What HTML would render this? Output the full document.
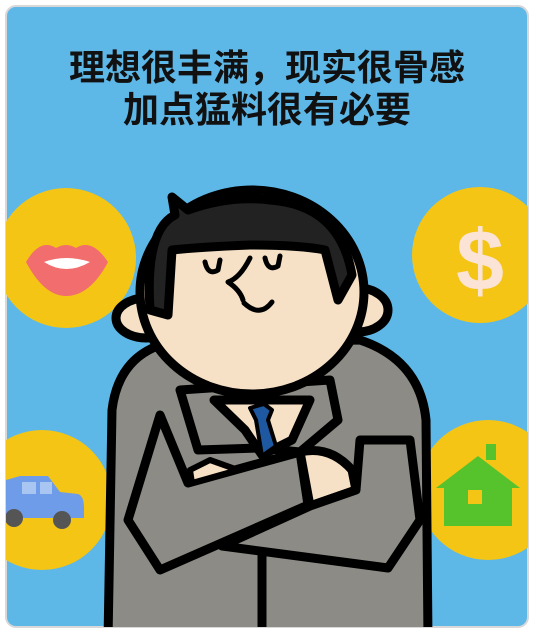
<!DOCTYPE html>
<html><head><meta charset="utf-8"><style>
html,body{margin:0;padding:0;background:#fff;width:534px;height:633px;overflow:hidden}
svg{display:block}
</style></head><body>
<svg width="534" height="633" viewBox="0 0 534 633">
<defs><clipPath id="card"><rect x="6" y="6" width="522" height="621" rx="10"/></clipPath></defs>
<rect x="6" y="6" width="522" height="621" rx="10" fill="#5db8e8" stroke="#d8d8d8" stroke-width="2"/>
<g clip-path="url(#card)">
  <g>
    <circle cx="66" cy="258" r="70" fill="#f4c515"/>
    <path d="M26 262 Q40 238 56 248 Q66 242 76 248 Q92 238 108 262 Q90 296 66 296 Q44 296 26 262Z" fill="#f26d6d"/>
    <path d="M44 262 Q66 254 90 262 Q66 276 44 262Z" fill="#fff"/>
  </g>
  <g>
    <circle cx="480" cy="255" r="68" fill="#f4c515"/>
    <text x="480" y="290" font-family="Liberation Sans, sans-serif" font-size="86" font-weight="bold" fill="#fbe3d6" text-anchor="middle">$</text>
  </g>
  <g>
    <circle cx="42" cy="500" r="70" fill="#f4c515"/>
    <path d="M6 480 L20 476 L48 476 L60 492 L78 494 Q84 496 84 508 L84 518 L6 518Z" fill="#6e9ce8"/>
    <rect x="22" y="482" width="14" height="12" fill="#a9c6f2"/>
    <rect x="40" y="482" width="12" height="12" fill="#a9c6f2"/>
    <circle cx="14" cy="518" r="9" fill="#555"/>
    <circle cx="62" cy="520" r="9" fill="#555"/>
  </g>
  <g>
    <circle cx="488" cy="490" r="70" fill="#f4c515"/>
    <path d="M436 488 L478 456 L520 488 L512 488 L512 526 L444 526 L444 488Z" fill="#56c22c"/>
    <rect x="486" y="444" width="10" height="16" fill="#56c22c"/>
    <rect x="468" y="490" width="14" height="14" fill="#f4c515"/>
  </g>
  <g stroke="#000" stroke-width="9" stroke-linejoin="round" stroke-linecap="round">
    <path d="M108 640 L112 410 Q118 360 160 345 L360 340 Q420 360 426 420 L428 640Z" fill="#8c8b86"/>
    <path d="M180 390 L198 450 L260 448 L300 452 L338 420 L330 380Z" fill="#8c8b86"/>
    <path d="M214 400 L245 430 L262 455 L292 440 L310 400Z" fill="#f6e0c6"/>
    <path d="M250 408 L264 404 L272 410 L268 420 L276 446 L262 456 L256 420Z" fill="#1e58a0" stroke-width="4"/>
    <path d="M160 415 L188 483 L300 452 L308 505 L160 570 L128 520Z" fill="#8c8b86"/>
    <path d="M190 470 L210 460 L238 470 L192 483Z" fill="#f6e0c6" stroke-width="6"/>
    <path d="M300 452 Q330 445 352 470 L356 490 L310 506Z" fill="#f6e0c6"/>
    <path d="M222 546 L310 506 L356 490 L360 440 L410 440 L420 520 L388 568Z" fill="#8c8b86"/>
    <line x1="262" y1="555" x2="262" y2="640"/>
    <ellipse cx="146" cy="318" rx="30" ry="20" fill="#f6e0c6"/>
    <ellipse cx="358" cy="310" rx="30" ry="22" fill="#f6e0c6"/>
    <ellipse cx="252" cy="292" rx="112" ry="102" fill="#f6e0c6"/>
    <path d="M150 310 Q145 230 175 215 L172 197 L188 210 Q230 195 270 200 Q340 205 352 275 L338 300 L325 250 Q300 245 250 245 Q200 247 172 250 L168 315Z" fill="#222"/>
    <path d="M205 262 Q208 276 218 270 L220 260 M265 258 Q268 272 278 266 L280 256 M250 258 Q240 278 228 282 Q240 290 243 300 M244 303 Q260 318 272 302" fill="none" stroke-width="5"/>
  </g>
</g>
<g font-family="Liberation Sans, 'Noto Sans CJK SC', sans-serif" font-weight="bold" font-size="36" fill="#111" text-anchor="middle">
  <text x="267" y="80">理想很丰满，现实很骨感</text>
  <text x="267" y="122">加点猛料很有必要</text>
</g>
</svg>
</body></html>
